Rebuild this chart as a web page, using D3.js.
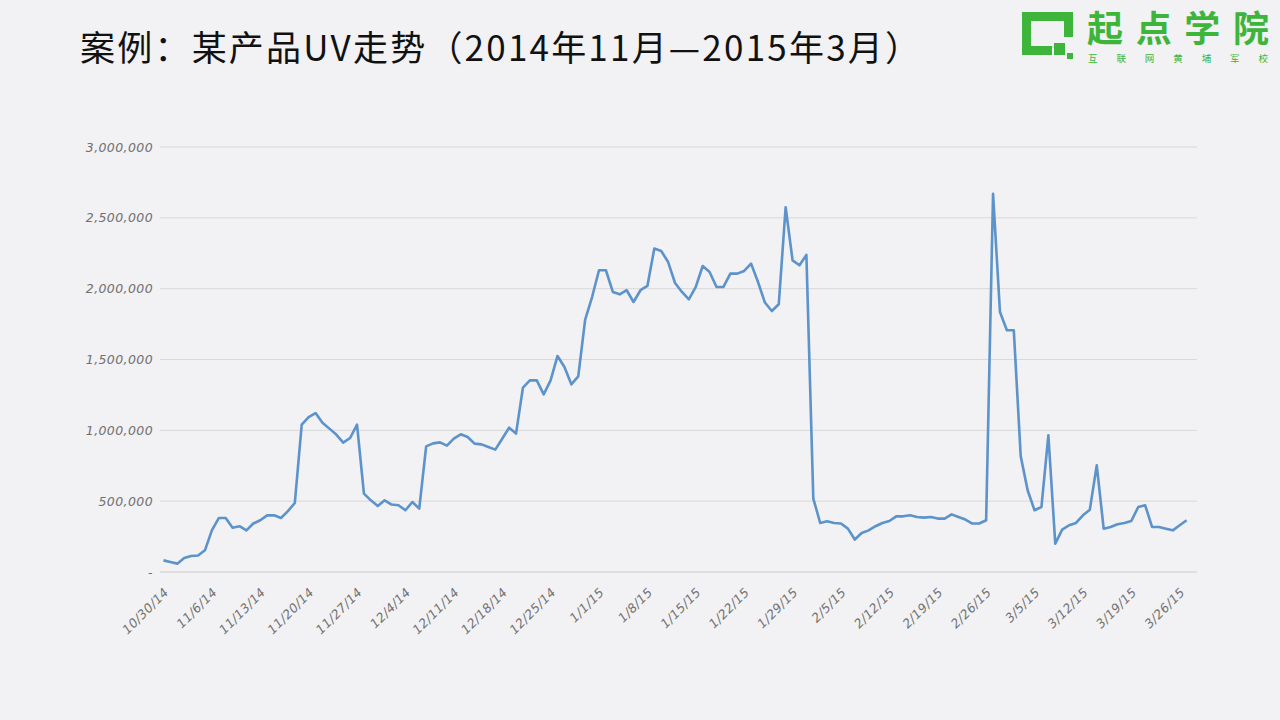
<!DOCTYPE html>
<html>
<head>
<meta charset="utf-8">
<script src="https://cdn.jsdelivr.net/npm/d3@7"></script>
<style>
  body { margin: 0; background: #f2f1f3; }
  svg { display: block; }
</style>
</head>
<body>
<div id="chart"></div>
<script>
// daily UV from 10/30/14, one value per day
var startDate = new Date(2014, 9, 30);
var uvValues = [
  82000, 70000, 59000, 99000, 113000, 116000, 153000, 294000, 381000, 381000,
  313000, 323000, 294000, 342000, 365000, 400000, 400000, 381000, 430000, 487000,
  1040000, 1094000, 1122000, 1054000, 1012000, 970000, 913000, 946000, 1040000, 553000,
  506000, 466000, 506000, 476000, 471000, 436000, 494000, 447000, 887000, 908000,
  915000, 892000, 941000, 972000, 953000, 906000, 901000, 882000, 864000, 941000,
  1019000, 977000, 1302000, 1353000, 1353000, 1254000, 1353000, 1525000, 1447000, 1325000,
  1381000, 1782000, 1941000, 2130000, 2130000, 1977000, 1960000, 1989000, 1906000, 1989000,
  2019000, 2283000, 2266000, 2188000, 2040000, 1977000, 1925000, 2012000, 2160000, 2118000,
  2012000, 2012000, 2106000, 2106000, 2125000, 2177000, 2047000, 1902000, 1842000, 1890000,
  2575000, 2200000, 2165000, 2238000, 518000, 346000, 358000, 346000, 342000, 306000,
  229000, 275000, 294000, 323000, 346000, 360000, 393000, 393000, 400000, 388000,
  384000, 388000, 377000, 377000, 407000, 388000, 370000, 342000, 342000, 365000,
  2670000, 1835000, 1706000, 1706000, 818000, 577000, 436000, 459000, 965000, 200000,
  299000, 330000, 346000, 400000, 440000, 753000, 306000, 318000, 337000, 346000,
  360000, 459000, 471000, 318000, 318000, 306000, 294000, 330000, 365000
];
var yTicks = [0, 500000, 1000000, 1500000, 2000000, 2500000, 3000000];
var dayCount = 150;   // slots on the category axis
var labelEvery = 7;

var data = uvValues.map(function(v, i) {
  return { date: d3.timeDay.offset(startDate, i), uv: v };
});
var allDays = d3.range(dayCount).map(function(i) { return d3.timeDay.offset(startDate, i); });
var fmt = d3.timeFormat("%-m/%-d/%y");

var width = 1280, height = 720;
var margin = {top: 147, right: 83, bottom: 148, left: 160};

var svg = d3.select("#chart").append("svg")
  .attr("width", width)
  .attr("height", height);

svg.append("rect").attr("width", width).attr("height", height).attr("fill", "#f2f1f3");

// title
svg.append("text")
  .attr("x", 80)
  .attr("y", 61)
  .attr("font-family", "'Noto Sans CJK SC', sans-serif")
  .attr("font-size", 35)
  .attr("textLength", 840)
  .attr("lengthAdjust", "spacing")
  .attr("fill", "#111")
  .text("案例：某产品UV走势（2014年11月—2015年3月）");

// logo
var logo = svg.append("g").attr("transform", "translate(1022,12)");
var green = "#3db53a";
logo.append("path")
  .attr("d", "M0,0 H51 V25 H42 V9 H9 V34 H30 V43 H0 Z")
  .attr("fill", green);
logo.append("rect").attr("x", 32).attr("y", 31).attr("width", 11).attr("height", 12).attr("fill", green);
logo.append("rect").attr("x", 45).attr("y", 41).attr("width", 6).attr("height", 6).attr("fill", green);
logo.append("text")
  .attr("x", 65).attr("y", 30)
  .attr("font-family", "'Noto Sans CJK SC', sans-serif")
  .attr("font-weight", 700)
  .attr("font-size", 36)
  .attr("textLength", 182)
  .attr("lengthAdjust", "spacing")
  .attr("fill", green)
  .text("起点学院");
logo.append("text")
  .attr("x", 66).attr("y", 50)
  .attr("font-family", "'Noto Sans CJK SC', sans-serif")
  .attr("font-size", 9.5)
  .attr("textLength", 180)
  .attr("lengthAdjust", "spacing")
  .attr("fill", green)
  .text("互联网黄埔军校");

var g = svg.append("g")
  .attr("transform", "translate(" + margin.left + "," + margin.top + ")");

var w = width - margin.left - margin.right;
var h = height - margin.top - margin.bottom;

var x = d3.scaleBand()
  .domain(allDays.map(fmt))
  .range([0, w])
  .padding(0);

var y = d3.scaleLinear()
  .domain([0, 3000000])
  .range([h, 0]);

// grid
g.selectAll(".grid")
  .data(yTicks)
  .enter().append("line")
  .attr("x1", 0).attr("x2", w)
  .attr("y1", function(d) { return y(d); })
  .attr("y2", function(d) { return y(d); })
  .attr("stroke", function(d) { return d === 0 ? "#cccccc" : "#d9d9d9"; })
  .attr("stroke-width", 1);

// y axis
var yAxis = g.append("g")
  .call(d3.axisLeft(y).tickValues(yTicks).tickSize(0).tickPadding(7)
    .tickFormat(function(d) { return d === 0 ? "-" : d3.format(",")(d); }));
yAxis.select(".domain").remove();
yAxis.selectAll("text")
  .attr("font-family", "'DejaVu Sans', sans-serif")
  .attr("font-style", "italic")
  .attr("font-size", 12.5)
  .attr("letter-spacing", 0.4)
  .attr("fill", "#707070");

// x axis
var xAxis = g.append("g")
  .attr("transform", "translate(0," + h + ")")
  .call(d3.axisBottom(x)
    .tickValues(allDays.filter(function(d, i) { return i % labelEvery === 0 && i < uvValues.length; }).map(fmt))
    .tickSize(0));
xAxis.select(".domain").remove();
xAxis.selectAll("text")
  .attr("font-family", "'DejaVu Sans', sans-serif")
  .attr("font-style", "italic")
  .attr("font-size", 12.5)
  .attr("letter-spacing", 0.4)
  .attr("fill", "#707070")
  .attr("y", 0)
  .attr("dy", 0)
  .style("text-anchor", "end")
  .attr("transform", "translate(6,21) rotate(-45)");

// line
var line = d3.line()
  .x(function(d) { return x(fmt(d.date)) + x.bandwidth() / 2; })
  .y(function(d) { return y(d.uv); });

g.append("path")
  .datum(data)
  .attr("fill", "none")
  .attr("stroke", "#5b93ca")
  .attr("stroke-width", 2.6)
  .attr("stroke-linejoin", "round")
  .attr("d", line);
</script>
</body>
</html>
